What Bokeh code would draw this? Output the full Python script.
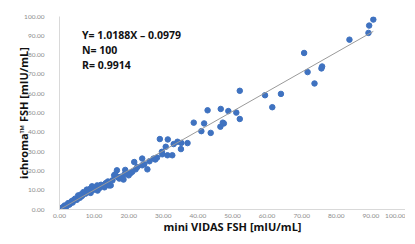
from bokeh.plotting import figure
from bokeh.models import Range1d, FixedTicker
from bokeh.core.properties import value
from bokeh.embed import file_html
from bokeh.resources import INLINE
import numpy as np

# mini VIDAS FSH (x) vs ichroma FSH (y), mIU/mL
x_vals = [90.7, 89.5, 89.3, 83.8, 70.7, 71.7, 75.9, 75.7, 73.7, 64.0, 59.4, 61.5, 52.1, 48.8, 51.1, 52.1, 47.5,
          42.8, 46.6, 38.8, 41.8, 47.2, 46.5, 41.0, 43.7, 29.0, 31.3, 34.1, 35.2, 37.0, 33.0, 30.7, 35.1, 29.6, 29.7,
          31.2, 32.6, 28.2, 27.2,
          27.7, 23.9, 21.6, 23.9, 22.0, 25.4, 16.6, 18.8, 20.0, 15.8, 17.3, 18.5, 15.3, 14.8, 16.1, 16.8, 13.4, 14.3,
          12.8, 10.9, 9.4, 7.9, 8.4, 6.9, 5.4, 5.9, 4.5, 3.5, 2.5, 1.5, 1.0, 2.0,
          19.5, 20.5, 21.0, 17.8, 14.0, 12.0, 11.5, 10.2, 9.8, 8.9, 9.0, 7.5, 6.5, 6.2, 5.0, 4.0, 3.8, 3.0, 2.8, 1.8,
          1.2, 0.8, 0.5, 11.0, 13.0, 19.0, 22.5, 24.5, 26.0]
y_vals = [98.4, 95.3, 91.5, 88.0, 81.1, 71.2, 74.1, 73.1, 65.3, 59.9, 59.2, 53.0, 61.5, 51.0, 50.2, 46.9, 44.6,
          51.4, 52.1, 45.0, 44.6, 45.0, 42.9, 40.6, 39.7, 36.5, 36.3, 35.1, 34.5, 34.4, 33.9, 32.5, 31.3, 29.9, 28.6,
          28.1, 28.1, 26.9, 26.4,
          25.9, 26.4, 24.6, 22.9, 20.8, 20.8, 20.3, 18.2, 17.7, 17.7, 16.0, 15.5, 15.1, 12.5, 18.2, 16.8, 13.7, 12.5,
          12.0, 12.5, 12.0, 10.3, 9.0, 9.0, 7.3, 6.1, 5.6, 4.3, 3.3, 2.1, 0.9, 1.6,
          19.0, 18.8, 19.5, 17.0, 14.5, 12.8, 11.0, 10.6, 10.2, 10.8, 8.6, 8.2, 7.0, 7.8, 5.0, 4.8, 3.6, 3.0, 2.5, 1.5,
          1.4, 1.0, 0.6, 9.8, 11.5, 20.5, 22.0, 23.5, 25.0]

slope = 1.0188
intercept = -0.0979
stats_lines = ["Y= 1.0188X \u2013 0.0979", "N= 100", "R= 0.9914"]
ticks = [0, 10, 20, 30, 40, 50, 60, 70, 80, 90, 100]

p = figure(width=405, height=236, output_backend="svg", toolbar_location=None,
           x_range=Range1d(0, 100), y_range=Range1d(0, 100),
           min_border_left=59, min_border_right=0, min_border_top=16, min_border_bottom=0)
p.styles = {"margin-bottom": "-8px"}
p.outline_line_color = None
p.xgrid.grid_line_color = None
p.ygrid.grid_line_color = None
p.background_fill_color = "white"
p.border_fill_color = "white"

for ax in (p.xaxis[0], p.yaxis[0]):
    ax.ticker = FixedTicker(ticks=ticks)
    ax.major_label_overrides = {t: f"{t:.2f}" for t in ticks}
    ax.major_tick_line_color = None
    ax.minor_tick_line_color = None
    ax.axis_line_color = "#d9d9d9"
    ax.major_label_text_font = "Lato"
    ax.major_label_text_font_size = "6.5px"
    ax.major_label_text_color = "#8c8c8c"
    ax.axis_label_text_font = "Open Sans"
    ax.axis_label_text_font_style = "bold"
    ax.axis_label_text_font_size = "11px"
    ax.axis_label_text_color = "#111111"

p.xaxis.axis_label = "mini VIDAS FSH [mIU/mL]"
p.yaxis.axis_label = "ichroma\u2122 FSH [mIU/mL]"
p.xaxis.major_label_standoff = -2
p.xaxis.axis_label_standoff = -2
p.yaxis.major_label_standoff = 9
p.yaxis.axis_label_standoff = -10

p.scatter(x_vals, y_vals, size=5.5, color="#3f72c0", line_color="#3f72c0")

lx = np.array([min(x_vals), max(x_vals)])
p.line(lx, slope * lx + intercept, line_color="#9a9a9a", line_width=1)

text_x = [6.5] * len(stats_lines)
text_y = [90.6 - 7.8 * i for i in range(len(stats_lines))]
p.text(x=text_x, y=text_y, text=stats_lines, text_font=value("Open Sans"),
       text_font_style="bold", text_font_size="10.5px", text_color="#111111",
       text_baseline="middle", text_align="left")

open("out.html", "w").write(file_html(p, INLINE))
